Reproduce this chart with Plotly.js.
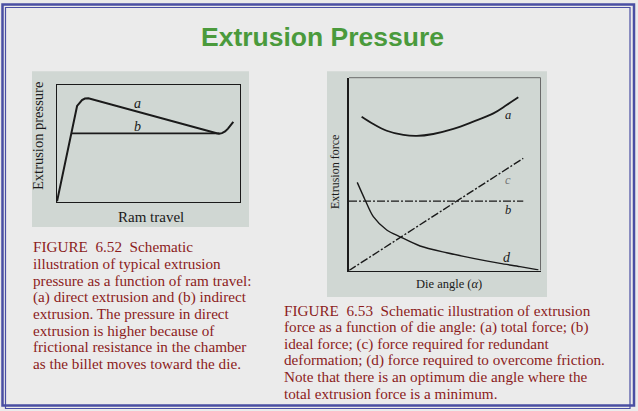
<!DOCTYPE html>
<html>
<head>
<meta charset="utf-8">
<script src="https://cdn.plot.ly/plotly-3.0.1.min.js"></script>
<style>html,body{margin:0;padding:0;background:#ebebeb;}#chart{width:638px;height:411px;}</style>
</head>
<body>
<div id="chart"></div>
<script>
// ---- Data (schematic curves) ----
// Figure 6.52: extrusion pressure vs ram travel
const ramTravelA = [0, 11.0, 12.2, 13.7, 15.3, 17.2, 87.5, 88.8, 90.4, 92.1, 93.7, 95.3, 96.6];
const pressureA  = [0, 82.2, 84.5, 87.3, 88.6, 88.8, 58.7, 58.3, 58.8, 60.3, 62.7, 66.1, 68.5];
const ramTravelB = [7.9, 89.0];
const pressureB  = [58.7, 58.7];

// Figure 6.53: extrusion force vs die angle
const dieAngleA = [6.6, 12.7, 19.7, 28.4, 35.4, 44.0, 54.5, 64.9, 75.4, 82.3, 88.4];
const forceA    = [79.8, 76.0, 72.5, 70.3, 69.8, 70.8, 73.4, 77.2, 81.5, 85.8, 89.8];
const dieAngleB = [0, 91.0];
const forceB    = [36.0, 36.0];
const dieAngleC = [0, 91.0];
const forceC    = [0, 58.2];
const dieAngleD = [4.3, 8.4, 12.7, 19.7, 26.6, 37.1, 51.0, 64.9, 78.9, 89.3, 98.9];
const forceD    = [45.7, 36.6, 27.9, 21.0, 17.5, 12.7, 9.2, 6.3, 3.7, 2.0, 0.3];

// Text
const pageTitle = "Extrusion Pressure";
const leftYTitle = "Extrusion pressure";
const leftXTitle = "Ram travel";
const rightYTitle = "Extrusion force";
const rightXTitle = "Die angle (<i>α</i>)";
const leftCurveLabels = ["a", "b"];
const rightCurveLabels = ["a", "b", "c", "d"];
const caption52 = [
  "FIGURE\u00a0\u00a06.52\u00a0\u00a0Schematic",
  "illustration of typical extrusion",
  "pressure as a function of ram travel:",
  "(a) direct extrusion and (b) indirect",
  "extrusion. The pressure in direct",
  "extrusion is higher because of",
  "frictional resistance in the chamber",
  "as the billet moves toward the die."
];
const caption53 = [
  "FIGURE\u00a0\u00a06.53\u00a0\u00a0Schematic illustration of extrusion",
  "force as a function of die angle: (a) total force; (b)",
  "ideal force; (c) force required for redundant",
  "deformation; (d) force required to overcome friction.",
  "Note that there is an optimum die angle where the",
  "total extrusion force is a minimum."
];

// ---- Layout helpers ----
const W = 638, H = 411;
const px = v => v / W;
const py = v => 1 - v / H;
const SERIF = '"Liberation Serif", "Times New Roman", Times, serif';
const SANS = '"Liberation Sans", Arial, Helvetica, sans-serif';
const CAP = '#8c1c1c';
const INK = '#1a1a1a';

const traces = [
  {x: ramTravelA, y: pressureA, xaxis: 'x', yaxis: 'y', mode: 'lines', line: {color: INK, width: 2}, hoverinfo: 'skip'},
  {x: ramTravelB, y: pressureB, xaxis: 'x', yaxis: 'y', mode: 'lines', line: {color: INK, width: 1.7}, hoverinfo: 'skip'},
  {x: dieAngleA, y: forceA, xaxis: 'x2', yaxis: 'y2', mode: 'lines', line: {color: INK, width: 1.8, shape: 'spline', smoothing: 1}, hoverinfo: 'skip'},
  {x: dieAngleB, y: forceB, xaxis: 'x2', yaxis: 'y2', mode: 'lines', line: {color: INK, width: 1.4, dash: '8px,2px,2px,2px'}, hoverinfo: 'skip'},
  {x: dieAngleC, y: forceC, xaxis: 'x2', yaxis: 'y2', mode: 'lines', line: {color: INK, width: 1.4, dash: '8px,2px,2px,2px'}, hoverinfo: 'skip'},
  {x: dieAngleD, y: forceD, xaxis: 'x2', yaxis: 'y2', mode: 'lines', line: {color: INK, width: 1.4, shape: 'spline', smoothing: 0.8}, hoverinfo: 'skip'}
];

const axBase = {range: [0, 100], showgrid: false, zeroline: false, ticks: '', showticklabels: false, fixedrange: true, linecolor: INK};

const annotations = [];
annotations.push({text: '<b>' + pageTitle + '</b>', xref: 'paper', yref: 'paper', x: px(322), y: py(37), xanchor: 'center', yanchor: 'middle', showarrow: false, font: {family: SANS, size: 26.5, color: '#4a9a3c'}});
// axis titles
annotations.push({text: leftYTitle, xref: 'paper', yref: 'paper', x: px(38), y: py(136), textangle: -90, xanchor: 'center', yanchor: 'middle', showarrow: false, font: {family: SERIF, size: 14.5, color: INK}});
annotations.push({text: leftXTitle, xref: 'paper', yref: 'paper', x: px(151), y: py(217), xanchor: 'center', yanchor: 'middle', showarrow: false, font: {family: SERIF, size: 15, color: INK}});
annotations.push({text: rightYTitle, xref: 'paper', yref: 'paper', x: px(335), y: py(172), textangle: -90, xanchor: 'center', yanchor: 'middle', showarrow: false, font: {family: SERIF, size: 12, color: INK}});
annotations.push({text: rightXTitle, xref: 'paper', yref: 'paper', x: px(449), y: py(284), xanchor: 'center', yanchor: 'middle', showarrow: false, font: {family: SERIF, size: 12.5, color: INK}});
// curve labels
const leftLabelPos = [[44, 84.5], [44.2, 64.4]];
leftCurveLabels.forEach((t, i) => annotations.push({text: '<i>' + t + '</i>', xref: 'x', yref: 'y', x: leftLabelPos[i][0], y: leftLabelPos[i][1], xanchor: 'center', yanchor: 'middle', showarrow: false, font: {family: SERIF, size: 14, color: INK}}));
const rightLabelPos = [[83.2, 80.7], [83.2, 31.4], [83.2, 46.9], [82.3, 6.6]];
const rightLabelCol = [INK, INK, '#777777', INK];
rightCurveLabels.forEach((t, i) => annotations.push({text: '<i>' + t + '</i>', xref: 'x2', yref: 'y2', x: rightLabelPos[i][0], y: rightLabelPos[i][1], xanchor: 'center', yanchor: 'middle', showarrow: false, font: {family: SERIF, size: i === 3 ? 14 : 12.5, color: rightLabelCol[i]}}));
// captions
caption52.forEach((t, i) => annotations.push({text: t, xref: 'paper', yref: 'paper', x: px(31), y: py(246.7 + 16.67 * i), xanchor: 'left', yanchor: 'middle', showarrow: false, font: {family: SERIF, size: 15.2, color: CAP}}));
caption53.forEach((t, i) => annotations.push({text: t, xref: 'paper', yref: 'paper', x: px(282), y: py(310.7 + 16.55 * i), xanchor: 'left', yanchor: 'middle', showarrow: false, font: {family: SERIF, size: 15.2, color: CAP}}));

const BLUE = '#4a4fa3';
const shapes = [
  // figure panels
  {type: 'rect', xref: 'paper', yref: 'paper', x0: px(32), x1: px(249), y0: py(227), y1: py(71.3), fillcolor: '#d0d7d3', line: {width: 0}, layer: 'below'},
  {type: 'rect', xref: 'paper', yref: 'paper', x0: px(327), x1: px(547), y0: py(297), y1: py(71.3), fillcolor: '#d0d7d3', line: {width: 0}, layer: 'below'},
  // right plot top/right thin grey frame
  {type: 'line', xref: 'paper', yref: 'paper', x0: px(349), x1: px(540.5), y0: py(77.7), y1: py(77.7), line: {color: '#6a6a6a', width: 1}},
  {type: 'line', xref: 'paper', yref: 'paper', x0: px(540.5), x1: px(540.5), y0: py(77.7), y1: py(270.5), line: {color: '#6a6a6a', width: 1}},
  // page border (double line)
  {type: 'rect', xref: 'paper', yref: 'paper', x0: px(2.5), x1: px(634), y0: py(405.5), y1: py(4.5), line: {color: BLUE, width: 2.5}, layer: 'above'},
  {type: 'rect', xref: 'paper', yref: 'paper', x0: px(5.5), x1: px(630), y0: py(408.5), y1: py(7.5), line: {color: BLUE, width: 1.2}, layer: 'above'}
];

const layout = {
  width: W, height: H,
  margin: {l: 0, r: 0, t: 0, b: 0, pad: 0},
  paper_bgcolor: '#ebebeb',
  plot_bgcolor: 'rgba(0,0,0,0)',
  showlegend: false,
  xaxis: Object.assign({}, axBase, {domain: [px(57), px(239.5)], anchor: 'y', showline: true, mirror: true, linewidth: 1.3}),
  yaxis: Object.assign({}, axBase, {domain: [py(201.5), py(85.3)], anchor: 'x', showline: true, mirror: true, linewidth: 1.3}),
  xaxis2: Object.assign({}, axBase, {domain: [px(349), px(540.5)], anchor: 'y2', showline: true, linewidth: 1.6}),
  yaxis2: Object.assign({}, axBase, {domain: [py(270.5), py(77.7)], anchor: 'x2', showline: true, linewidth: 1.6}),
  annotations: annotations,
  shapes: shapes
};

Plotly.newPlot('chart', traces, layout, {staticPlot: true, displayModeBar: false});
</script>
</body>
</html>
